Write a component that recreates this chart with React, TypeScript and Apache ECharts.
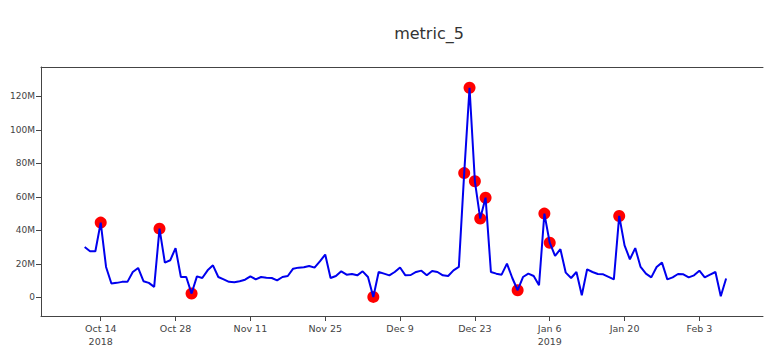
import React, { useEffect, useRef } from "react";
import * as echarts from "echarts";

const startDate = "2018-10-11";
// daily values in millions, Oct 11 2018 .. Feb 8 2019
const values: number[] = [
  30.0, 27.5, 27.5, 44.6, 18.1, 8.2, 8.6, 9.2, 9.2, 15.1,
  17.5, 9.6, 8.6, 6.2, 41.0, 20.7, 22.1, 29.4, 12.1, 12.1,
  2.2, 12.5, 11.5, 16.1, 19.1, 12.1, 10.7, 9.2, 9.0, 9.6,
  10.5, 12.5, 10.7, 12.1, 11.7, 11.5, 10.1, 12.1, 12.7, 17.1,
  17.7, 17.9, 18.7, 17.7, 21.5, 25.5, 11.5, 12.7, 15.5, 13.5,
  13.9, 13.1, 15.5, 12.1, 0.2, 15.1, 14.1, 13.1, 15.1, 17.8,
  13.1, 13.3, 15.1, 15.9, 13.1, 15.7, 15.1, 13.1, 12.7, 16.1,
  18.1, 74.2, 125.2, 69.3, 47.0, 59.5, 15.1, 14.1, 13.5, 20.1,
  11.5, 4.2, 12.1, 14.1, 12.7, 7.2, 50.0, 32.6, 24.7, 28.7,
  14.7, 11.5, 15.1, 1.2, 16.7, 15.1, 13.9, 13.7, 12.2, 10.7,
  48.6, 31.0, 22.7, 29.4, 18.1, 14.1, 11.9, 18.1, 20.7, 10.7,
  11.9, 13.9, 13.7, 11.9, 13.1, 15.9, 11.9, 13.5, 15.1, 0.6,
  11.2,
];
// anomaly dates (red markers)
const anomalyDates: string[] = [
  "2018-10-14", "2018-10-25", "2018-10-31", "2018-12-04",
  "2018-12-21", "2018-12-22", "2018-12-23", "2018-12-24", "2018-12-25",
  "2018-12-31", "2019-01-05", "2019-01-06", "2019-01-19",
];
const xTickDates: string[] = [
  "2018-10-14", "2018-10-28", "2018-11-11", "2018-11-25", "2018-12-09",
  "2018-12-23", "2019-01-06", "2019-01-20", "2019-02-03",
];
const yTicks: number[] = [0, 20e6, 40e6, 60e6, 80e6, 100e6, 120e6];
const yTickLabels: string[] = ["0", "20M", "40M", "60M", "80M", "100M", "120M"];

const DAY = 86400000;
const ts = (s: string) => {
  const [y, m, d] = s.split("-").map(Number);
  return Date.UTC(y, m - 1, d);
};
const MONTHS = ["Jan", "Feb", "Mar", "Apr", "May", "Jun", "Jul", "Aug", "Sep", "Oct", "Nov", "Dec"];

export default function App() {
  const ref = useRef<HTMLDivElement>(null);
  useEffect(() => {
    if (!ref.current) return;
    const chart = echarts.init(ref.current, null, { renderer: "svg" });
    const t0 = ts(startDate);
    const lineData = values.map((v, i) => [t0 + i * DAY, v * 1e6]);
    const anomalyData = anomalyDates.map((d) => {
      const idx = Math.round((ts(d) - t0) / DAY);
      return [ts(d), values[idx] * 1e6];
    });
    const ref0 = ts("2018-10-14");
    const xMin = ref0 - 11.17 * DAY;
    const xMax = ref0 + 123.9 * DAY;
    const xTicks = xTickDates.map(ts);
    const font = "DejaVu Sans";
    chart.setOption({
      animation: false,
      title: {
        text: "metric_5",
        left: 424,
        top: 20,
        textAlign: "center",
        textStyle: { fontFamily: font, fontSize: 16, fontWeight: "normal", color: "#333" },
      },
      grid: { left: 41, right: 7, top: 67, bottom: 48, containLabel: false },
      xAxis: [
        {
          type: "value",
          min: xMin,
          max: xMax,
          splitLine: { show: false },
          axisLine: { show: true, onZero: false, lineStyle: { color: "#444", width: 1 } },
          axisTick: { show: true, length: 5, lineStyle: { color: "#444" }, customValues: xTicks },
          axisLabel: {
            customValues: xTicks,
            margin: 6,
            color: "#444",
            fontFamily: font,
            fontSize: 9.5,
            lineHeight: 13,
            formatter: (v: number) => {
              const d = new Date(v);
              const m = d.getUTCMonth();
              const day = d.getUTCDate();
              let s = MONTHS[m] + " " + day;
              if (m === 9 && day === 14) s += "\n2018";
              if (m === 0 && day === 6) s += "\n2019";
              return s;
            },
          },
        },
        {
          type: "value",
          position: "top",
          min: xMin,
          max: xMax,
          splitLine: { show: false },
          axisLine: { show: true, onZero: false, lineStyle: { color: "#444", width: 1 } },
          axisTick: { show: false },
          axisLabel: { show: false },
        },
      ],
      yAxis: {
        type: "value",
        min: -11.2e6,
        max: 137.6e6,
        splitLine: { show: false },
        axisLine: { show: true, onZero: false, lineStyle: { color: "#444", width: 1 } },
        axisTick: { show: true, length: 5, lineStyle: { color: "#444" }, customValues: yTicks },
        axisLabel: {
          customValues: yTicks,
          margin: 6,
          color: "#444",
          fontFamily: font,
          fontSize: 9,
          formatter: (v: number) => {
            const i = yTicks.indexOf(v);
            return i >= 0 ? yTickLabels[i] : "";
          },
        },
      },
      series: [
        {
          type: "scatter",
          data: anomalyData,
          symbol: "circle",
          symbolSize: 12,
          itemStyle: { color: "#ff0000", opacity: 1 },
          z: 2,
        },
        {
          type: "line",
          data: lineData,
          showSymbol: false,
          symbol: "none",
          lineStyle: { color: "#0000ee", width: 2 },
          z: 3,
        },
      ],
    });
    return () => chart.dispose();
  }, []);
  return <div ref={ref} style={{ width: 770, height: 364, position: "absolute", left: 0, top: 0 }} />;
}
